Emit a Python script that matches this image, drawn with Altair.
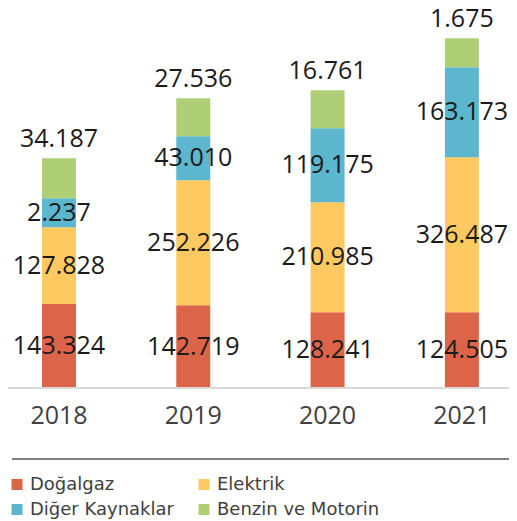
import altair as alt
import pandas as pd

years = ["2018", "2019", "2020", "2021"]
series = ["Doğalgaz", "Elektrik", "Diğer Kaynaklar", "Benzin ve Motorin"]
colors = ["#DB6449", "#FEC961", "#5BB6CE", "#AECF76"]

# values printed on the segments
dogalgaz = [143324, 142719, 128241, 124505]
elektrik = [127828, 252226, 210985, 326487]
diger = [2237, 43010, 119175, 163173]
benzin = [34187, 27536, 16761, 1675]

# segment sizes as drawn in the picture (the drawn heights are not proportional to the labels)
h_dogalgaz = [84, 82.7, 75.7, 75.7]
h_elektrik = [76.7, 125, 110, 155]
h_diger = [29, 44, 74, 90]
h_benzin = [40, 38, 38, 29]

vals = [dogalgaz, elektrik, diger, benzin]
hs = [h_dogalgaz, h_elektrik, h_diger, h_benzin]

rows = []
for si, s in enumerate(series):
    for yi, yr in enumerate(years):
        rows.append({
            "year": yr,
            "series": s,
            "order": si,
            "h": hs[si][yi],
            "label": f"{vals[si][yi]:,}".replace(",", "."),
        })
df = pd.DataFrame(rows)

W, H = 501, 380
FONT = "Open Sans"
LEGEND_FONT = "DejaVu Sans"

base = alt.Chart(df).transform_stack(
    stack="h", groupby=["year"], as_=["y0", "y1"], sort=[alt.SortField("order")]
).transform_calculate(mid="(datum.y0 + datum.y1) / 2")

xenc = alt.X(
    "year:N",
    sort=years,
    title=None,
    scale=alt.Scale(paddingInner=0.747, paddingOuter=0.2387, align=0.53),
    axis=alt.Axis(
        labelAngle=0, domain=False, ticks=False, labelFont=FONT,
        labelFontSize=25, labelColor="#404040", labelPadding=15,
    ),
)
yscale = alt.Scale(domain=[0, H])

bars = base.mark_bar().encode(
    x=xenc,
    y=alt.Y("y0:Q", scale=yscale, axis=None),
    y2="y1:Q",
    color=alt.Color(
        "series:N",
        scale=alt.Scale(domain=series, range=colors),
        sort=series,
        legend=alt.Legend(
            title=None, orient="none", legendX=0, legendY=467.5, columns=2,
            direction="horizontal",
            columnPadding=21, rowPadding=7, symbolType="square", symbolSize=121,
            symbolStrokeWidth=0, symbolOpacity=1, labelFont=LEGEND_FONT, labelFontSize=18,
            labelColor="#404040", labelOffset=4, labelLimit=400, padding=0,
        ),
    ),
)

mid_text = base.transform_filter(alt.datum.order < 3).mark_text(
    font=FONT, fontSize=25, color="#1a1a1a", baseline="middle"
).encode(x=xenc, y=alt.Y("mid:Q", scale=yscale, axis=None), text="label:N")

top_text = base.transform_filter(alt.datum.order == 3).mark_text(
    font=FONT, fontSize=25, color="#1a1a1a", baseline="middle", dy=-19
).encode(x=xenc, y=alt.Y("y1:Q", scale=yscale, axis=None), text="label:N")

baseline_rule = alt.Chart(df).mark_rule(color="#d9d9d9", strokeWidth=2).encode(
    x=alt.value(0), x2=alt.value(W), y=alt.value(H)
)
sep_rule = alt.Chart(df).mark_rule(color="#7f7f7f", strokeWidth=2).encode(
    x=alt.value(4), x2=alt.value(W), y=alt.value(451)
)

chart = alt.layer(bars, baseline_rule, mid_text, top_text, sep_rule).properties(
    width=W, height=H,
    autosize=alt.AutoSizeParams(type="none"),
    padding={"left": 0, "top": 0, "right": 0, "bottom": 133},
).configure_view(stroke=None)

chart.save("out.html", embed_options={"renderer": "svg", "actions": False})
